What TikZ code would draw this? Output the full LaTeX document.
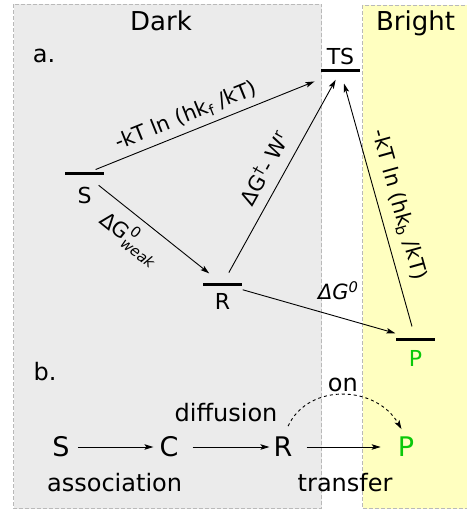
\documentclass[tikz,border=0pt]{standalone}
\usepackage{fontspec}
\usepackage{amsmath}
\setmainfont{DejaVu Sans}
\usetikzlibrary{arrows.meta,positioning}

\definecolor{darkbg}{RGB}{235,235,235}
\definecolor{brightbg}{RGB}{255,255,192}
\definecolor{boxgray}{RGB}{185,185,185}
\definecolor{prodgreen}{RGB}{10,200,10}

\begin{document}
\begin{tikzpicture}[x=1pt, y=-1pt,
    region/.style={draw=boxgray, dash pattern=on 4pt off 2pt, line width=0.8pt},
    lvl/.style={fill=black, minimum width=39pt, minimum height=3pt, inner sep=0pt},
    lvltxt/.style={font=\fontsize{22}{24}\selectfont, inner sep=0pt},
    rate/.style={-{Stealth[length=9pt,width=5.5pt,inset=2pt]}, line width=0.9pt},
    elbl/.style={font=\fontsize{21}{23}\selectfont, sloped},
    big/.style={font=\fontsize{27}{30}\selectfont, inner sep=0pt},
    word/.style={font=\fontsize{24}{27}\selectfont}]

    \useasboundingbox (0,0) rectangle (466,510);

    % Dark / Bright regions
    \filldraw[region, fill=darkbg] (13.5,4) rectangle (321.5,508.5);
    \filldraw[region, fill=brightbg] (362.5,5) rectangle (480,508.5);
    \node[font=\fontsize{26}{29}\selectfont, anchor=base] (dark) at (161,31) {Dark};
    \node[font=\fontsize{26}{29}\selectfont, anchor=base] (bright) at (415.5,31) {Bright};

    % a. energy levels
    \node[word, anchor=base] (a) at (44,63) {a.};
    \foreach \name/\x/\y in {TS/340.5/71, S/84.5/174, R/222.5/284, P/415.5/339} {
        \node[lvl] (lvl\name) at (\x,\y) {};
    }
    \node[lvltxt, above=4.5pt of lvlTS] (TS) {TS};
    \node[lvltxt, below=11.5pt of lvlS] (S) {S};
    \node[lvltxt, below=7.5pt of lvlR] (R) {R};
    \node[lvltxt, below=9.5pt of lvlP, text=prodgreen] (P) {P};

    % rates between levels
    \draw[rate, shorten <=12pt, shorten >=28pt] (lvlS.center) -- (lvlTS.center)
        node[elbl, pos=0.42, above=2pt] {-kT ln (hk\textsubscript{f} /kT)};
    \draw[rate, shorten <=13pt, shorten >=10pt] (lvlR.center) -- (lvlTS.center)
        node[elbl, midway, above=7pt] {ΔG\textsuperscript{†}- W\textsuperscript{r}};
    \draw[rate, shorten <=13pt, shorten >=13pt] (lvlP.center) -- (lvlTS.center)
        node[elbl, pos=0.48, above=6pt] {-kT ln (hk\textsubscript{b} /kT)};
    \draw[rate, shorten <=18pt, shorten >=17pt] (lvlS.center) -- (lvlR.center)
        node[elbl, pos=0.43, below=4pt] {$\text{ΔG}^{\text{0}}_{\text{\itshape weak}}$};
    \draw[rate, shorten <=21pt, shorten >=21pt] (lvlR.center) -- (lvlP.center)
        node[font=\fontsize{21}{23}\selectfont, pos=0.6, above=13pt] {\itshape ΔG\textsuperscript{0}};

    % b. reaction scheme
    \node[word, anchor=base] (b) at (45,380) {b.};
    \node[big] (bS) at (61,447) {S};
    \node[big] (bC) at (169,447) {C};
    \node[big] (bR) at (283,447) {R};
    \node[big, text=prodgreen] (bP) at (406,447) {P};
    \draw[rate, shorten <=8pt, shorten >=6pt] (bS) -- (bC)
        node[word, midway, below=22pt] {association};
    \draw[rate, shorten <=14pt, shorten >=4pt] (bC) -- (bR)
        node[word, midway, above=21pt] {diffusion};
    \draw[rate, shorten <=14pt, shorten >=17pt] (bR) -- (bP)
        node[word, midway, below=22pt] {transfer};
    \draw[rate, dashed, shorten <=12pt, shorten >=9pt] (bR.north)
        to[out=65, in=120, looseness=1.25] node[word, above=1pt] {on} (bP.north);
\end{tikzpicture}
\end{document}
